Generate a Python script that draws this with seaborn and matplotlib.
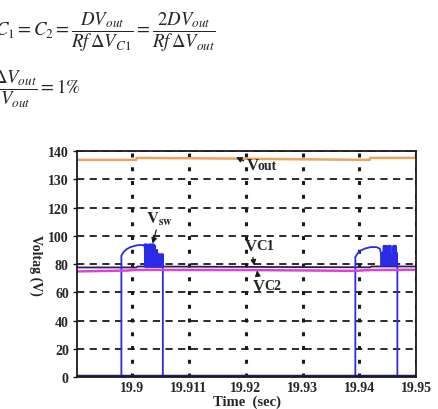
import numpy as np
import pandas as pd
import seaborn as sns
import matplotlib.pyplot as plt

# switch voltage Vsw (two switching bursts, zero in between)
vsw_t = [19.8903, 19.8981, 19.8981, 19.8985, 19.8990, 19.8997, 19.9005, 19.9012, 19.9018, 19.9021,
         19.9022, 19.9023, 19.9024, 19.9025, 19.9026, 19.9027, 19.9028, 19.9029, 19.9030, 19.9031,
         19.9032, 19.9033, 19.9034, 19.9035, 19.9036, 19.9037, 19.9038, 19.9039, 19.9040, 19.9041,
         19.9042, 19.9043, 19.9044, 19.9045, 19.9046, 19.9047, 19.9048, 19.9049, 19.9050, 19.9051,
         19.9052, 19.9053, 19.9054, 19.9054, 19.9393,
         19.9393, 19.9397, 19.9402, 19.9410, 19.9420, 19.9430, 19.9436,
         19.9438, 19.9439, 19.9440, 19.9441, 19.9442, 19.9443, 19.9444, 19.9445, 19.9446, 19.9447,
         19.9448, 19.9449, 19.9450, 19.9451, 19.9452, 19.9453, 19.9454, 19.9455, 19.9456, 19.9457,
         19.9458, 19.9459, 19.9460, 19.9461, 19.9462, 19.9463, 19.9464, 19.9465, 19.9466, 19.9467,
         19.9467, 19.9497]
vsw_v = [0, 0, 86, 88.5, 90.5, 92, 93, 93.5, 93.5, 93,
         94, 78, 94, 78, 94, 78, 92, 78, 94, 78,
         94, 78, 94, 78, 94, 78, 94, 78, 93, 78,
         90, 78, 90, 78, 87, 78, 87, 78, 87, 78,
         87, 78, 87, 0, 0,
         85, 87.5, 89.5, 91, 92, 92, 91,
         88, 79, 88, 79, 88, 93, 79, 93, 79, 93,
         85, 79, 85, 93, 79, 93, 79, 93, 79, 86,
         79, 86, 93, 79, 93, 79, 93, 79, 88, 79,
         0, 0]

# output voltage
vout_t = [19.8903, 19.9007, 19.9008, 19.9150, 19.9300, 19.9418, 19.9419, 19.9497]
vout_v = [136.9, 136.9, 137.6, 137.4, 137.1, 136.9, 137.6, 137.6]

# capacitor voltages
vc1_t = [19.8903, 19.9007, 19.9010, 19.9200, 19.9418, 19.9422, 19.9497]
vc1_v = [77.6, 77.6, 78.3, 78.0, 77.7, 78.3, 78.3]
vc2_t = [19.8903, 19.8990, 19.9007, 19.9200, 19.9390, 19.9420, 19.9497]
vc2_v = [74.8, 75.4, 75.9, 75.8, 75.2, 75.8, 76.0]

x_ticks = [19.9, 19.91, 19.92, 19.93, 19.94, 19.95]
x_labels = ["19.9", "19.911", "19.92", "19.93", "19.94", "19.95"]
y_ticks = [0, 20, 40, 60, 80, 100, 120, 130, 140]

sns.set_theme(style="white")
plt.rcParams["font.family"] = ["Liberation Serif", "DejaVu Serif"]
plt.rcParams["mathtext.fontset"] = "stix"

fig = plt.figure(figsize=(4.38, 4.10), dpi=100)
ax = fig.add_axes([0.176, 0.078, 0.774, 0.551])

# the original axis has 20 V per grid step up to 120, then 10 V per step
def fwd(y):
    return np.interp(y, [0, 120, 140], [0, 6, 8])

def inv(v):
    return np.interp(v, [0, 6, 8], [0, 120, 140])

ax.set_yscale("function", functions=(fwd, inv))

sns.lineplot(x=vout_t, y=vout_v, ax=ax, color="#EBA35F", lw=1.8, sort=False, estimator=None)
sns.lineplot(x=vc1_t, y=vc1_v, ax=ax, color="#2A1E5C", lw=1.3, sort=False, estimator=None)
sns.lineplot(x=vsw_t, y=vsw_v, ax=ax, color="#2B2BE6", lw=1.3, sort=False, estimator=None)
sns.lineplot(x=vc2_t, y=vc2_v, ax=ax, color="#E040D8", lw=1.8, sort=False, estimator=None)
ax.plot([19.8903, 19.9497], [0.4, 0.4], color="#1A1A80", lw=2.5)

ax.set_xlim(19.8903, 19.9497)
ax.set_ylim(0, 140)
ax.set_xticks(x_ticks)
ax.set_xticklabels(x_labels, fontsize=10, fontweight="bold")
ax.set_yticks(y_ticks)
ax.set_yticklabels([str(v) for v in y_ticks], fontsize=10, fontweight="bold")
ax.tick_params(axis="y", length=3, width=1, direction="out", pad=3, color="k", left=True)
ax.tick_params(axis="x", length=0, pad=3)

ax.set_axisbelow(True)
ax.yaxis.grid(True, color="k", ls=(0, (4, 3)), lw=1.3)
ax.xaxis.grid(True, color="k", ls=(0, (1.3, 3.2)), lw=2.2)
for s in ax.spines.values():
    s.set_color("k")
    s.set_linewidth(1.3)

ax.set_xlabel("Time  (sec)", fontsize=10.5, fontweight="bold", labelpad=0)
ax.set_ylabel("Voltag (V)", fontsize=10, fontweight="bold", rotation=-90, labelpad=14)

# labels with arrows
arrow = dict(arrowstyle="-|>", color="k", lw=0.9, mutation_scale=8, shrinkA=0, shrinkB=0)
ax.annotate("V", xy=(19.9183, 137.8), xytext=(247, 410 - 166), textcoords="figure pixels",
            fontsize=12, fontweight="bold", va="center", arrowprops=arrow)
fig.text(258, 410 - 167, "out", transform=None, fontsize=10, fontweight="bold", va="center")
ax.annotate(r"$\mathbf{V}_{\mathbf{sw}}$", xy=(19.9036, 94.5), xytext=(146, 410 - 219),
            textcoords="figure pixels", fontsize=12, va="center", arrowprops=arrow)
ax.annotate("V", xy=(19.9215, 79.0), xytext=(245, 410 - 247), textcoords="figure pixels",
            fontsize=12, fontweight="bold", va="center", arrowprops=arrow)
fig.text(256, 410 - 247, "C1", transform=None, fontsize=10.5, fontweight="bold", va="center")
ax.annotate("V", xy=(19.9220, 75.5), xytext=(253, 410 - 287), textcoords="figure pixels",
            fontsize=12, fontweight="bold", va="center", arrowprops=arrow)
fig.text(264, 410 - 287, "C2", transform=None, fontsize=10, fontweight="bold", va="center")

# design equations above the chart
fig.text(-0.012, 1 - 32 / 410,
         r"$C_1 = C_2 = \dfrac{DV_{out}}{Rf\,\Delta V_{C1}} = \dfrac{2DV_{out}}{Rf\,\Delta V_{out}}$",
         fontsize=13.5, va="center", ha="left")
fig.text(-0.016, 1 - 89 / 410, r"$\dfrac{\Delta V_{out}}{V_{out}} = 1\%$",
         fontsize=13.5, va="center", ha="left")

fig.savefig("out.png", dpi=100)
